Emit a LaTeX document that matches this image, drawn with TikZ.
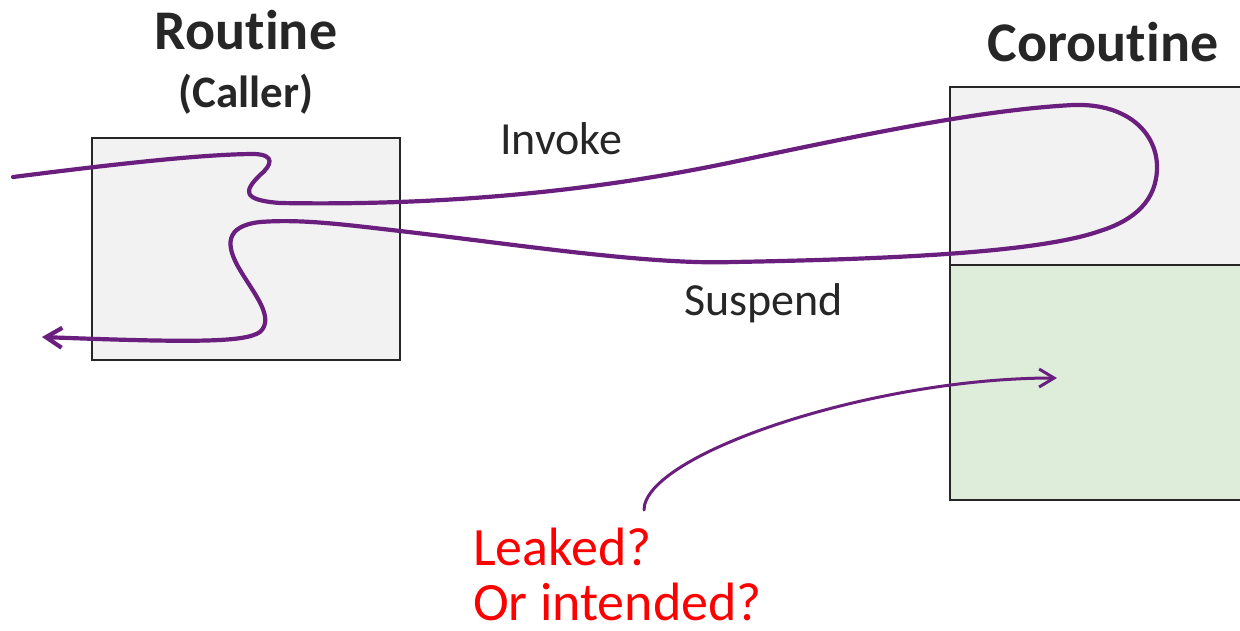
\documentclass[tikz,border=0pt]{standalone}
\usepackage{fontspec}
\setmainfont[Ligatures=NoCommon]{Carlito}
\usetikzlibrary{positioning,arrows.meta}
\definecolor{flowpurple}{RGB}{106,30,126}
\definecolor{boxgray}{RGB}{242,242,242}
\definecolor{boxgreen}{RGB}{222,237,218}
\definecolor{inkgray}{RGB}{38,38,38}

\begin{document}
\begin{tikzpicture}[x=1pt,y=-1pt,
  box/.style={draw=inkgray, line width=2.4pt, rectangle, inner sep=0pt},
  heading/.style={inner sep=0pt, text=inkgray, font=\fontsize{56}{62}\selectfont\bfseries},
  subheading/.style={inner sep=0pt, text=inkgray, font=\fontsize{45}{50}\selectfont\bfseries},
  tag/.style={inner sep=0pt, text=inkgray, font=\fontsize{46}{52}\selectfont},
  alert/.style={inner sep=0pt, text=red, font=\fontsize{54}{60}\selectfont},
  flow/.style={draw=flowpurple, line width=4.2pt, line cap=round,
    -{Straight Barb[length=16pt,width=20pt,line width=4.2pt]}}]
\clip (0,0) rectangle (1240,630);

\node[box, fill=boxgray, minimum width=308pt, minimum height=222pt] (caller) at (246,249) {};
\node[box, fill=boxgreen, minimum width=306pt, minimum height=235pt] (frame) at (1103,382.5) {};
\node[box, fill=boxgray, minimum width=306pt, minimum height=178pt] (coro) at (1103,176) {};

\node[subheading] (callerlbl) [above=22pt of caller] {(Caller)};
\node[heading] (routine) [above=24pt of callerlbl] {Rout\kern0pt ine};
\node[heading] (corolbl) [above=24pt of coro] {Corout\kern0pt ine};

\node[tag, anchor=base west] (invoke) at (500,154) {Invoke};
\node[tag, anchor=base west] (suspend) at (684,315) {Suspend};
\node[alert, anchor=base west] (leaked) at (473,565) {Leaked?};
\node[alert, anchor=base west] (intended) at ([yshift=-55pt]leaked.base west) {Or intended?};

\coordinate (entry) at (13,177);
\coordinate (exit) at (42,337);
\coordinate (from) at (644,510);
\coordinate (slot) at (1057,378);

% invoke, then suspend back to the caller
\draw[flow] (entry) .. controls (100,166) and (200,154) .. (255,154)
  .. controls (275,155) and (272,165) .. (260,175)
  .. controls (245,190) and (240,200) .. (280,203)
  .. controls (450,206) and (600,190) .. (733,162)
  .. controls (866,134) and (980,110) .. (1073,105)
  .. controls (1130,103) and (1157,135) .. (1157,167)
  .. controls (1157,200) and (1135,220) .. (1100,231)
  .. controls (1040,252) and (900,259) .. (733,262)
  .. controls (650,265) and (520,245) .. (400,231)
  .. controls (340,224) and (300,219) .. (260,222)
  .. controls (225,226) and (225,245) .. (240,270)
  .. controls (255,295) and (275,318) .. (260,332)
  .. controls (245,342) and (200,343) .. (exit);

\draw[flow, line width=3pt, -{Straight Barb[length=15pt,width=18pt,line width=3pt]}]
  (from) .. controls (644,455) and (870,378) .. (slot);
\end{tikzpicture}
\end{document}
